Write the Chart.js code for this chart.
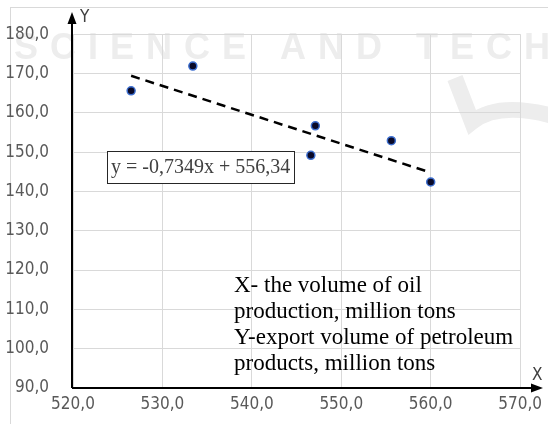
<!DOCTYPE html>
<html>
<head>
<meta charset="utf-8">
<script src="https://cdn.jsdelivr.net/npm/chart.js@4/dist/chart.umd.min.js"></script>
<style>
  html, body { margin: 0; padding: 0; background: #fff; }
  #wrap { width: 548px; height: 424px; }
</style>
</head>
<body>
<div id="wrap"><canvas id="chart" width="548" height="424"></canvas></div>
<script>
// =============================
// DATA
// =============================

const xValues = [526.5, 533.4, 547.1, 546.6, 555.6, 560.0];
const yValues = [165.6, 171.9, 156.7, 149.2, 152.9, 142.4];

const xRange = [520, 570];
const yRange = [90, 180];
const tickStep = 10;

// trend line as printed on the chart
const trendSlope = -0.7349;
const trendIntercept = 556.34;
const trendX = [526.5, 560.0];
const equationText = 'y = -0,7349x + 556,34';

const noteLines = [
  'X- the volume of oil',
  'production, million tons',
  'Y-export volume of petroleum',
  'products, million tons'
];

const points = xValues.map((x, i) => ({ x: x, y: yValues[i] }));
const trend = trendX.map(x => ({ x: x, y: trendSlope * x + trendIntercept }));

const fmt = v => v.toFixed(1).replace('.', ',');
const tickFont = '"Liberation Sans Narrow", "DejaVu Sans Condensed", sans-serif';


// =============================
// DECORATION PLUGIN
// =============================

const decor = {
  id: 'decor',

  beforeDraw(chart) {
    const ctx = chart.ctx;
    ctx.save();
    ctx.fillStyle = '#fff';
    ctx.fillRect(0, 0, 548, 424);

    // faint watermark
    ctx.fillStyle = '#ededed';
    ctx.font = 'bold 36px "Liberation Sans", sans-serif';
    ctx.letterSpacing = '12px';
    ctx.textBaseline = 'alphabetic';
    ctx.fillText('SCIENCE AND TECH', 14, 59);
    ctx.letterSpacing = '0px';

    ctx.strokeStyle = '#ededed';
    ctx.lineWidth = 16;
    ctx.beginPath();
    ctx.moveTo(455, 78);
    ctx.lineTo(472, 122);
    ctx.quadraticCurveTo(500, 100, 560, 118);
    ctx.stroke();

    // outer frame
    ctx.strokeStyle = '#d9d9d9';
    ctx.lineWidth = 1;
    ctx.strokeRect(10.5, 7.5, 600, 500);
    ctx.restore();
  },

  afterDraw(chart) {
    const ctx = chart.ctx;
    const xs = chart.scales.x;
    const ys = chart.scales.y;
    const ox = xs.getPixelForValue(xRange[0]) - 1;
    const oy = ys.getPixelForValue(yRange[0]);

    ctx.save();

    // axes with arrows
    ctx.strokeStyle = '#000';
    ctx.fillStyle = '#000';
    ctx.lineWidth = 2;
    ctx.beginPath();
    ctx.moveTo(ox, oy);
    ctx.lineTo(ox, 22);
    ctx.moveTo(ox, oy);
    ctx.lineTo(533, oy);
    ctx.stroke();

    ctx.beginPath();
    ctx.moveTo(ox, 12);
    ctx.lineTo(ox - 4.5, 24);
    ctx.lineTo(ox + 4.5, 24);
    ctx.closePath();
    ctx.fill();

    ctx.beginPath();
    ctx.moveTo(543, oy);
    ctx.lineTo(531, oy - 4.5);
    ctx.lineTo(531, oy + 4.5);
    ctx.closePath();
    ctx.fill();

    ctx.fillStyle = '#404040';
    ctx.font = '17px ' + tickFont;
    ctx.textBaseline = 'middle';
    ctx.textAlign = 'left';
    ctx.fillText('Y', 80, 18);
    ctx.fillText('X', 532, 376);

    // equation box
    ctx.fillStyle = '#fff';
    ctx.fillRect(107, 151, 187, 32);
    ctx.strokeStyle = '#262626';
    ctx.lineWidth = 1;
    ctx.strokeRect(107.5, 151.5, 187, 32);
    ctx.fillStyle = '#404040';
    ctx.font = '20px "Liberation Serif", serif';
    ctx.fillText(equationText, 111, 168);

    // notes
    ctx.fillStyle = '#000';
    ctx.font = '23px "Liberation Serif", serif';
    noteLines.forEach((line, i) => {
      ctx.fillText(line, 234, 286 + i * 26);
    });

    ctx.restore();
  }
};


// =============================
// CHART
// =============================

const ctx = document.getElementById('chart');

new Chart(ctx, {

  type: 'scatter',

  data: {
    datasets: [
      {
        label: 'data',
        data: points,
        backgroundColor: '#0a0a28',
        borderColor: '#3d6fd0',
        borderWidth: 1.5,
        pointRadius: 4
      },
      {
        label: 'trend',
        data: trend,
        showLine: true,
        borderColor: '#000',
        borderWidth: 2.5,
        borderDash: [9, 6],
        pointRadius: 0,
        fill: false
      }
    ]
  },

  options: {
    responsive: false,
    animation: false,
    layout: {
      padding: { left: 0, right: 25, top: 30, bottom: 0 }
    },
    plugins: {
      legend: { display: false },
      tooltip: { enabled: false }
    },
    scales: {
      x: {
        type: 'linear',
        min: xRange[0],
        max: xRange[1],
        afterFit: scale => { scale.height = 36; },
        grid: { color: '#d9d9d9', drawTicks: false },
        border: { display: false },
        ticks: {
          stepSize: tickStep,
          padding: 6,
          color: '#595959',
          font: { family: tickFont, size: 17 },
          callback: v => fmt(v)
        }
      },
      y: {
        min: yRange[0],
        max: yRange[1],
        afterFit: scale => { scale.width = 73; },
        grid: { color: '#d9d9d9', drawTicks: false },
        border: { display: false },
        ticks: {
          stepSize: tickStep,
          padding: 24,
          color: '#595959',
          font: { family: tickFont, size: 17 },
          callback: v => fmt(v)
        }
      }
    }
  },

  plugins: [decor]

});
</script>
</body>
</html>
